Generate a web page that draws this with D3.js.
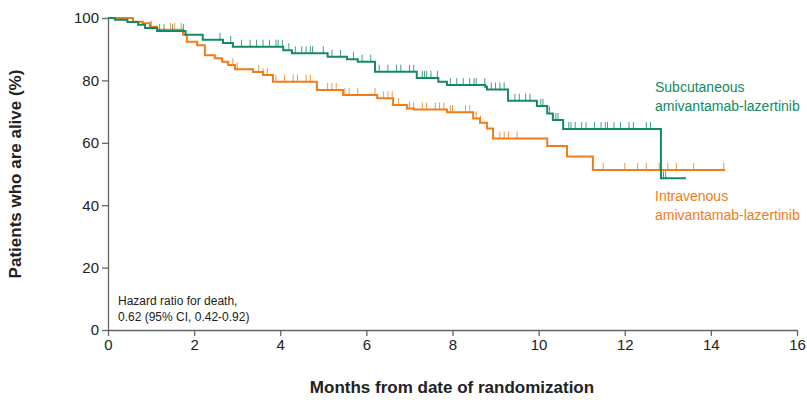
<!DOCTYPE html>
<html lang="en">
<head>
<meta charset="utf-8">
<script src="https://d3js.org/d3.v7.min.js"></script>
<style>body{margin:0;background:#fff}text{font-family:"Liberation Sans",Arial,sans-serif}</style>
</head>
<body>
<script>
// step data: [month, % alive]
const scTimes = [0,0.16,0.45,0.7,0.86,1.14,1.8,2.2,2.67,2.9,4.07,4.27,5.1,5.55,5.8,6.2,7.17,7.67,7.87,8.76,8.8,9.29,9.96,10.2,10.33,10.57,12.84,13.42]
const scSurv  = [100,99.4,98.7,97.8,96.8,95.8,94.6,93,92,90.8,89.7,88.7,87.6,86.8,86,82.8,80.8,79.6,78.5,78,77.1,73.5,71.8,69.4,67.3,64.4,48.6,48.6]
const ivTimes = [0,0.58,0.81,0.97,1.14,1.74,1.83,2.07,2.25,2.48,2.65,2.79,2.95,3.37,3.6,3.83,4.85,5.46,6.25,6.62,6.94,7.1,7.87,8.48,8.64,8.8,8.94,10.2,10.66,11.26,14.33]
const ivSurv  = [100,98.8,98.3,97.2,96.2,94.6,92.4,91.3,88.1,87.1,86,84.9,83.6,82.7,81.7,79.6,76.9,75.3,74.3,72.1,71,70.7,69.8,67.8,66.4,64.6,61.4,59,55.6,51.3,51.3]
// censoring marks (months)
const scCens = [1.0,1.2,1.3,1.5,1.75,2.6,2.85,3.1,3.3,3.45,3.6,3.75,3.9,3.95,4.05,4.2,4.35,4.5,4.6,4.7,4.75,5.0,5.2,5.4,5.7,5.9,6.1,6.3,6.5,6.7,6.8,7.0,7.1,7.3,7.35,7.4,7.5,7.65,7.95,8.1,8.25,8.4,8.5,8.55,8.75,8.9,9.0,9.1,9.2,9.45,9.55,9.7,9.8,10.05,10.1,10.25,10.4,10.45,10.7,10.75,10.85,11.0,11.1,11.3,11.45,11.55,11.6,11.75,11.9,12.1,12.2,12.5,12.6,12.9,12.95]
const ivCens = [1.45,1.55,1.7,2.9,3.0,3.5,3.6,3.7,3.9,4.1,4.3,4.4,4.6,4.7,5.1,5.2,5.3,5.5,5.6,5.8,6.2,6.4,6.5,6.6,6.75,7.0,7.1,7.3,7.4,7.6,7.7,7.8,7.95,8.0,8.3,8.4,8.55,8.65,9.1,9.2,9.3,9.5,11.5,12.0,12.3,12.5,12.8,13.0,13.2,13.6,14.3]
const xTicks = [0,2,4,6,8,10,12,14,16]
const yTicks = [0,20,40,60,80,100]
const green = "#138a62", orange = "#f07d1a"

const svg = d3.select("body").append("svg").attr("width",807).attr("height",402)
const x = d3.scaleLinear().domain([0,16]).range([108,797])
const y = d3.scaleLinear().domain([0,100]).range([330,18])

const ax = svg.append("g").attr("transform","translate(0,330)")
  .call(d3.axisBottom(x).tickValues(xTicks).tickSize(6).tickSizeOuter(0))
const ay = svg.append("g").attr("transform","translate(108,0)")
  .call(d3.axisLeft(y).tickValues(yTicks).tickSize(6).tickSizeOuter(0))
;[ax,ay].forEach(a=>{
  a.selectAll("path,line").attr("stroke","#666").attr("stroke-width",1.3)
  a.selectAll("text").attr("font-size",15).attr("fill","#222")
})

function survAt(t,ts,ss){let v=ss[0];for(let i=0;i<ts.length;i++){if(ts[i]<=t)v=ss[i]}return v}
const line = d3.line().x(d=>x(d[0])).y(d=>y(d[1])).curve(d3.curveStepAfter)
function drawCurve(ts,ss,cens,col){
  svg.append("path").datum(ts.map((t,i)=>[t,ss[i]])).attr("d",line)
    .attr("fill","none").attr("stroke",col).attr("stroke-width",2)
  svg.selectAll(null).data(cens).enter().append("line")
    .attr("x1",d=>x(d)).attr("x2",d=>x(d))
    .attr("y1",d=>y(survAt(d,ts,ss))).attr("y2",d=>y(survAt(d,ts,ss))-7)
    .attr("stroke",col).attr("stroke-width",1).attr("opacity",0.8)
}
drawCurve(ivTimes,ivSurv,ivCens,orange)
drawCurve(scTimes,scSurv,scCens,green)

svg.append("text").attr("x",655).attr("y",92).attr("fill",green).attr("font-size",14).text("Subcutaneous")
svg.append("text").attr("x",655).attr("y",111).attr("fill",green).attr("font-size",14).text("amivantamab-lazertinib")
svg.append("text").attr("x",655).attr("y",201).attr("fill",orange).attr("font-size",14).text("Intravenous")
svg.append("text").attr("x",655).attr("y",220).attr("fill",orange).attr("font-size",14).text("amivantamab-lazertinib")
svg.append("text").attr("x",118).attr("y",305).attr("font-size",12).attr("fill","#222").text("Hazard ratio for death,")
svg.append("text").attr("x",118).attr("y",321).attr("font-size",12).attr("fill","#222").text("0.62 (95% CI, 0.42-0.92)")
svg.append("text").attr("x",452).attr("y",393).attr("text-anchor","middle").attr("font-size",17).attr("font-weight","bold").attr("fill","#222").text("Months from date of randomization")
svg.append("text").attr("transform","translate(21,174) rotate(-90)").attr("text-anchor","middle").attr("font-size",17).attr("font-weight","bold").attr("fill","#222").text("Patients who are alive (%)")
</script>
</body>
</html>
